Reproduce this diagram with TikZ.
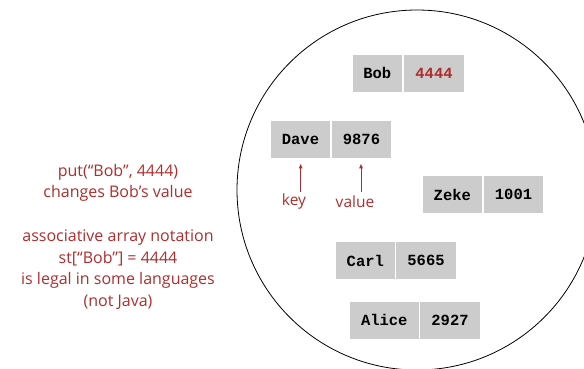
\documentclass[tikz,border=0pt]{standalone}
\usepackage{fontspec}
\usetikzlibrary{arrows.meta}
\setmainfont{Open Sans}
\setmonofont{Liberation Mono}
\definecolor{myred}{RGB}{175,45,45}
\definecolor{boxgray}{RGB}{204,204,204}
\begin{document}
\begin{tikzpicture}[x=1pt,y=-1pt,
  cell/.style={fill=boxgray,minimum height=37pt,inner sep=0pt,font=\ttfamily\bfseries\fontsize{15.5}{15.5}\selectfont},
  note/.style={text=myred,font=\fontsize{16}{21.5}\selectfont,align=center},
  arr/.style={myred,line width=1pt,-{Latex[length=5pt,width=4pt]}}]
\useasboundingbox (0,0) rectangle (584,368);
\begin{scope}
\clip (0,0) rectangle (584,368);
\draw[line width=0.8pt] (417,190) circle[radius=180];
\end{scope}
% Bob
\node[cell,minimum width=49pt] (bobk) at (377.2,73.3) {Bob};
\node[cell,minimum width=60pt,text=myred] (bobv) at (434,73.3) {4444};
% Dave
\node[cell,minimum width=59pt] (davek) at (300.5,139.2) {Dave};
\node[cell,minimum width=59pt] (davev) at (361.5,139.2) {9876};
% Zeke
\node[cell,minimum width=59pt] (zekek) at (452.3,194.8) {Zeke};
\node[cell,minimum width=59pt] (zekev) at (513.5,194.8) {1001};
% Carl
\node[cell,minimum width=59pt] (carlk) at (365.3,260.8) {Carl};
\node[cell,minimum width=60pt] (carlv) at (426,260.8) {5665};
% Alice
\node[cell,minimum width=69pt] (alicek) at (384.3,320.3) {Alice};
\node[cell,minimum width=60pt] (alicev) at (450,320.3) {2927};
% key / value
\node[text=myred,font=\fontsize{15.5}{15.5}\selectfont] (key) at (294,201.7) {key};
\node[text=myred,font=\fontsize{15.5}{15.5}\selectfont] (val) at (355,201.7) {value};
\coordinate (ka) at (300.7,191.7);
\coordinate (kb) at (300.7,163.3);
\coordinate (va) at (361,191.7);
\coordinate (vb) at (361,163.3);
\draw[arr] (ka) -- (kb);
\draw[arr] (va) -- (vb);
% notes
\node[note] (n1) at (118,183) {put(“Bob”, 4444)\\changes Bob’s value};
\node[note] (n2) at (118,269.5) {associative array notation\\st[“Bob”] = 4444\\is legal in some languages\\(not Java)};
\end{tikzpicture}
\end{document}
